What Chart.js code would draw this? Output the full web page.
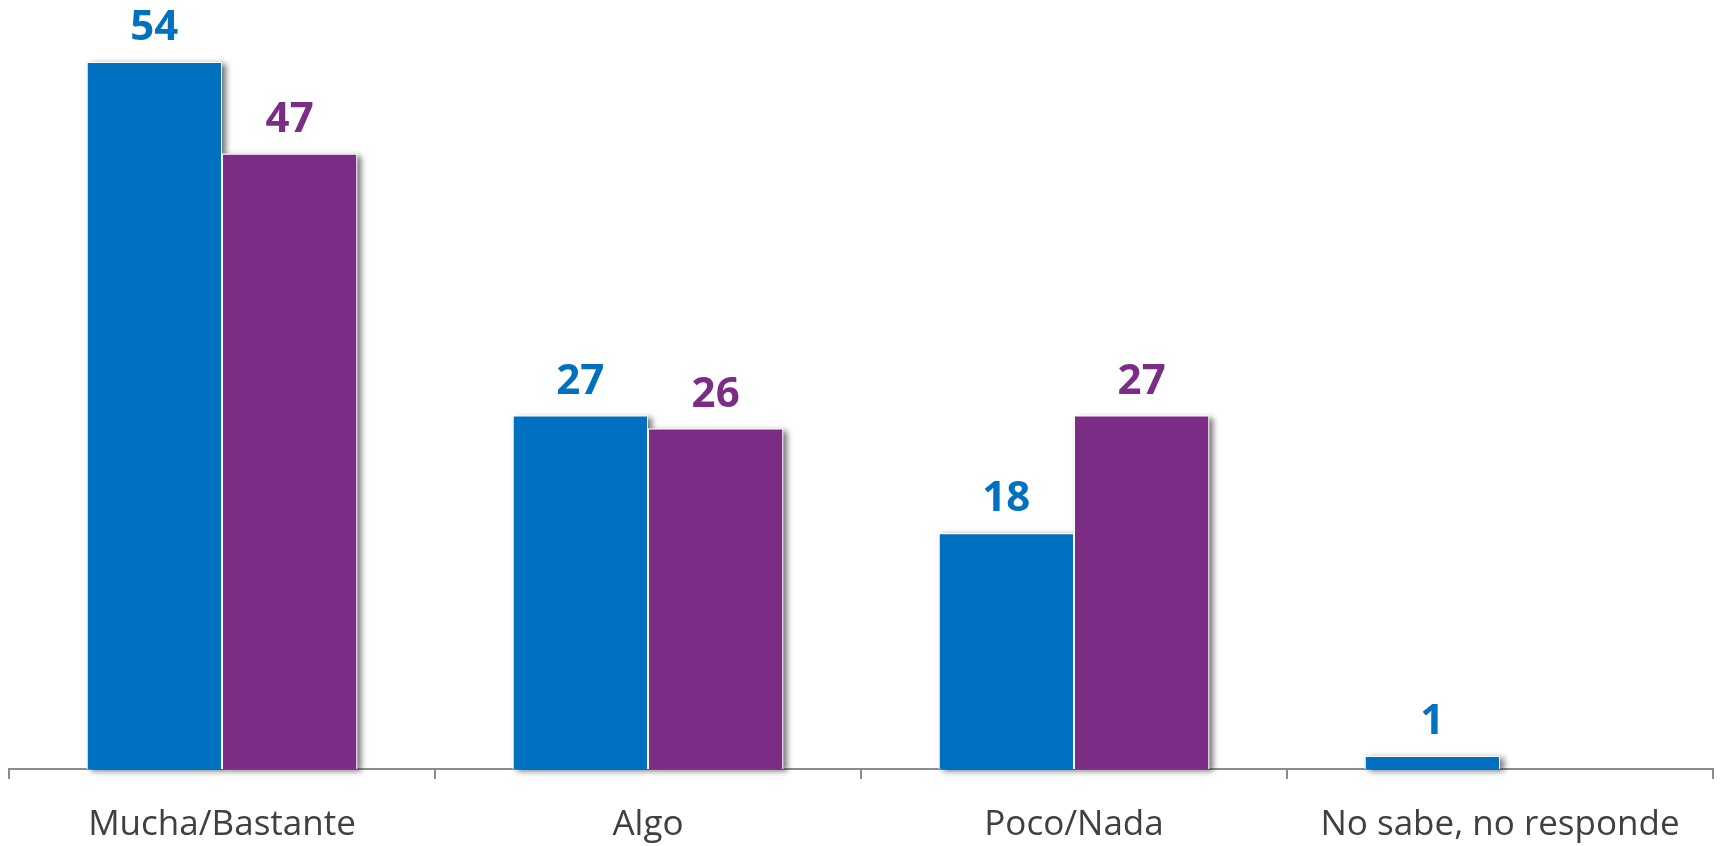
<!DOCTYPE html>
<html>
<head>
<meta charset="utf-8">
<script src="https://cdn.jsdelivr.net/npm/chart.js@4.4.1/dist/chart.umd.min.js"></script>
<style>
html,body{margin:0;padding:0;background:#fff;}
#wrap{width:1723px;height:846px;}
</style>
</head>
<body>
<div id="wrap"><canvas id="c" width="1723" height="846"></canvas></div>
<script>
const categories = ["Mucha/Bastante", "Algo", "Poco/Nada", "No sabe, no responde"];
const seriesA = [54, 27, 18, 1];
const seriesB = [47, 26, 27, null];
const colorA = "#0070C0";
const colorB = "#7B2C85";

const shadowPlugin = {
  id: 'barShadow',
  beforeDatasetsDraw(chart) {
    const ctx = chart.ctx;
    ctx.save();
    chart.data.datasets.forEach((ds, i) => {
      const meta = chart.getDatasetMeta(i);
      meta.data.forEach((bar, j) => {
        const v = ds.data[j];
        if (v === null || v === undefined) return;
        const p = bar.getProps(['x', 'y', 'base', 'width'], true);
        ctx.shadowColor = 'rgba(0,0,0,0.55)';
        ctx.shadowBlur = 6;
        ctx.shadowOffsetX = 4;
        ctx.shadowOffsetY = 2;
        ctx.fillStyle = '#ffffff';
        ctx.fillRect(p.x - p.width / 2, p.y, p.width, p.base - p.y);
      });
    });
    ctx.restore();
  }
};

const labelPlugin = {
  id: 'valueLabels',
  afterDatasetsDraw(chart) {
    const ctx = chart.ctx;
    ctx.save();
    ctx.font = 'bold 42px "Open Sans"';
    ctx.textAlign = 'center';
    ctx.textBaseline = 'alphabetic';
    chart.data.datasets.forEach((ds, i) => {
      const meta = chart.getDatasetMeta(i);
      meta.data.forEach((bar, j) => {
        const v = ds.data[j];
        if (v === null || v === undefined) return;
        ctx.fillStyle = ds.backgroundColor;
        ctx.fillText(String(v), bar.x, bar.y - 22);
      });
    });
    ctx.restore();
  }
};

new Chart(document.getElementById('c'), {
  type: 'bar',
  data: {
    labels: categories,
    datasets: [
      { data: seriesA, backgroundColor: colorA, borderColor: '#ffffff', borderWidth: 1, categoryPercentage: 0.635, barPercentage: 1.0 },
      { data: seriesB, backgroundColor: colorB, borderColor: '#ffffff', borderWidth: 1, categoryPercentage: 0.635, barPercentage: 1.0 }
    ]
  },
  options: {
    responsive: false,
    devicePixelRatio: 1,
    animation: false,
    layout: { padding: { left: 9, right: 10, top: 62, bottom: -25 } },
    plugins: { legend: { display: false }, tooltip: { enabled: false } },
    scales: {
      x: {
        grid: { offset: true, drawOnChartArea: false, tickLength: 10, color: '#8c8c8c', lineWidth: 2 },
        border: { color: '#8c8c8c', width: 2 },
        ticks: { color: '#404040', font: { family: '"Open Sans"', size: 35 }, padding: 25, maxRotation: 0, autoSkip: false }
      },
      y: { display: false, min: 0, max: 54 }
    }
  },
  plugins: [shadowPlugin, labelPlugin]
});
</script>
</body>
</html>
